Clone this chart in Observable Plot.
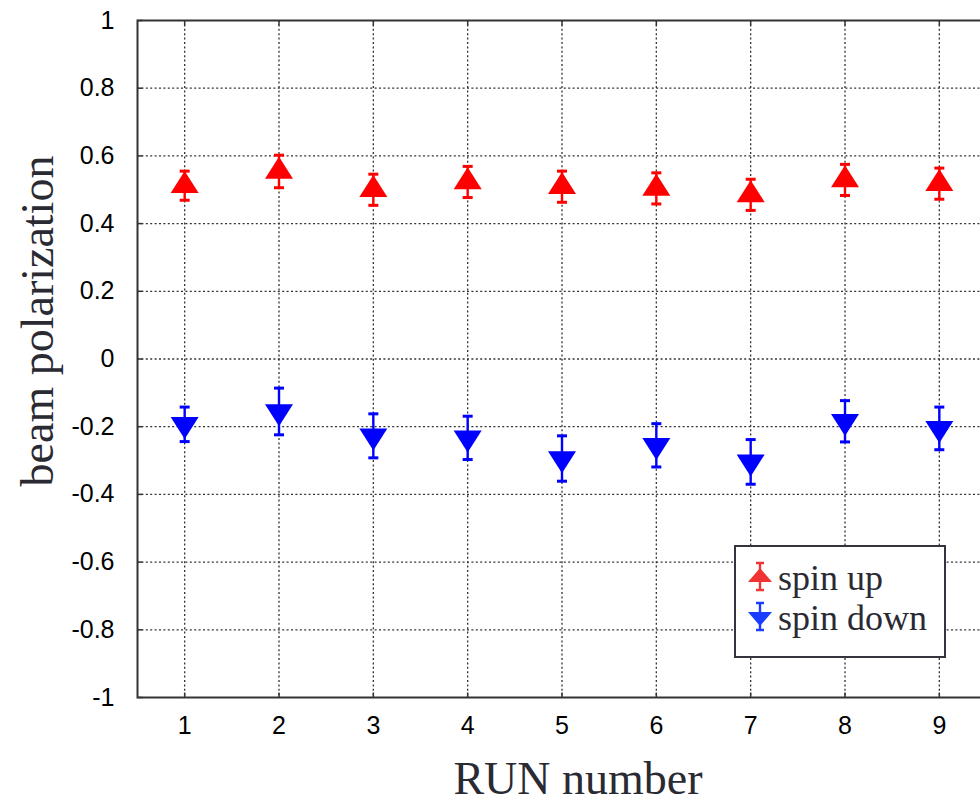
<!DOCTYPE html>
<html><head><meta charset="utf-8">
<script src="https://cdn.jsdelivr.net/npm/d3@7"></script>
<script src="https://cdn.jsdelivr.net/npm/@observablehq/plot@0.6"></script>
<style>
html,body{margin:0;padding:0;background:#fff;overflow:hidden;}
#wrap{position:relative;width:980px;height:805px;overflow:hidden;}
#legend{position:absolute;left:734px;top:545px;width:208px;height:109px;border:2px solid #34343e;background:#fff;}
#legend svg{display:block;}
</style></head><body><div id="wrap"></div>
<script>
const runs = [1, 2, 3, 4, 5, 6, 7, 8, 9];
const spinUp = [0.512, 0.554, 0.500, 0.523, 0.509, 0.504, 0.485, 0.529, 0.518];
const spinUpErr = [0.043, 0.048, 0.046, 0.046, 0.046, 0.046, 0.046, 0.046, 0.046];
const spinDown = [-0.193, -0.155, -0.227, -0.233, -0.294, -0.255, -0.304, -0.184, -0.205];
const spinDownErr = [0.051, 0.069, 0.065, 0.064, 0.067, 0.064, 0.066, 0.061, 0.063];
const yTicks = [-1, -0.8, -0.6, -0.4, -0.2, 0, 0.2, 0.4, 0.6, 0.8, 1];
const yGrid = [-0.8, -0.6, -0.4, -0.2, 0, 0.2, 0.4, 0.6, 0.8];
const seriesNames = ["spin up", "spin down"];
const seriesColors = ["#ff0000", "#0000ff"];
const xLabel = "RUN number";
const yLabel = "beam polarization";

const up = runs.map((r, i) => ({run: r, v: spinUp[i], e: spinUpErr[i]}));
const down = runs.map((r, i) => ({run: r, v: spinDown[i], e: spinDownErr[i]}));

const triUp = {draw(c, size) { const r = Math.sqrt(size / Math.PI); const w = r * 1.4, h = r * 2.2;
  c.moveTo(0, -2 * h / 3); c.lineTo(w, h / 3); c.lineTo(-w, h / 3); c.closePath(); }};
const triDown = {draw(c, size) { const r = Math.sqrt(size / Math.PI); const w = r * 1.4, h = r * 2.2;
  c.moveTo(0, 2 * h / 3); c.lineTo(w, -h / 3); c.lineTo(-w, -h / 3); c.closePath(); }};
const capSym = {draw(c, size) { const r = Math.sqrt(size / Math.PI); c.moveTo(-r, 0); c.lineTo(r, 0); }};
const tickRight = {draw(c) { c.moveTo(0, 0); c.lineTo(5, 0); }};
const tickUp = {draw(c) { c.moveTo(0, 0); c.lineTo(0, -5); }};
const tickDown = {draw(c) { c.moveTo(0, 0); c.lineTo(0, 5); }};

const axisCol = "#333";
const labelCol = "#2a2a33";
const sans = "'Liberation Sans', Arial, sans-serif";
const serif = "'Liberation Serif', 'Times New Roman', serif";
const fmt = d => String(+d.toFixed(1));

function errMarks(data, color, sym) {
  return [
    Plot.ruleX(data, {x: "run", y1: d => d.v - d.e, y2: d => d.v + d.e, stroke: color, strokeWidth: 2.4}),
    Plot.dot(data, {x: "run", y: d => d.v + d.e, symbol: capSym, r: 5, fill: "none", stroke: color, strokeWidth: 3}),
    Plot.dot(data, {x: "run", y: d => d.v - d.e, symbol: capSym, r: 5, fill: "none", stroke: color, strokeWidth: 3}),
    Plot.dot(data, {x: "run", y: "v", symbol: sym, r: 10, fill: color, stroke: "none"})
  ];
}

const chart = Plot.plot({
  width: 980,
  height: 805,
  marginLeft: 137,
  marginRight: -6,
  marginTop: 20,
  marginBottom: 108,
  style: {fontFamily: sans, color: "#000", background: "#fff"},
  x: {domain: [0.5, 9.5], axis: null},
  y: {domain: [-1, 1], axis: null},
  marks: [
    Plot.gridX(runs, {stroke: axisCol, strokeOpacity: 1, strokeWidth: 1.3, strokeDasharray: "2,2.4"}),
    Plot.gridY(yGrid, {stroke: axisCol, strokeOpacity: 1, strokeWidth: 1.3, strokeDasharray: "2,2.4"}),
    Plot.dot(yTicks, {y: d => d, frameAnchor: "left", symbol: tickRight, fill: "none", stroke: axisCol, strokeWidth: 1.5}),
    Plot.dot(runs, {x: d => d, frameAnchor: "bottom", symbol: tickUp, fill: "none", stroke: axisCol, strokeWidth: 1.5}),
    Plot.dot(runs, {x: d => d, frameAnchor: "top", symbol: tickDown, fill: "none", stroke: axisCol, strokeWidth: 1.5}),
    Plot.frame({stroke: axisCol, strokeWidth: 2}),
    Plot.text(yTicks, {y: d => d, text: fmt, frameAnchor: "left", textAnchor: "end", lineAnchor: "middle", dx: -23,
      fontSize: 25, fontFamily: sans, fill: "#000"}),
    Plot.text(runs, {x: d => d, text: d => String(d), frameAnchor: "bottom", textAnchor: "middle", lineAnchor: "top", dy: 19,
      fontSize: 25, fontFamily: sans, fill: "#000"}),
    ...errMarks(up, seriesColors[0], triUp),
    ...errMarks(down, seriesColors[1], triDown),
    Plot.text([yLabel], {frameAnchor: "left", rotate: -90, dx: -99, dy: -38, textAnchor: "middle", lineAnchor: "middle",
      fontSize: 46, fontFamily: serif, fill: labelCol}),
    Plot.text([xLabel], {frameAnchor: "bottom", dx: 16, dy: 82, textAnchor: "middle", lineAnchor: "middle",
      fontSize: 46, fontFamily: serif, fill: labelCol})
  ]
});

const wrap = document.getElementById("wrap");
wrap.appendChild(chart);

// legend
const ns = "http://www.w3.org/2000/svg";
const leg = document.createElement("div");
leg.id = "legend";
const lsvg = document.createElementNS(ns, "svg");
lsvg.setAttribute("width", 208); lsvg.setAttribute("height", 109);
const legColors = ["#f03434", "#1a3cff"];
seriesNames.forEach((name, i) => {
  const cy = 30 + i * 40, cx = 24, dir = i === 0 ? -1 : 1;
  const g = document.createElementNS(ns, "g");
  const tri = document.createElementNS(ns, "path");
  const tip = cy + dir * 9, base = cy - dir * 5;
  tri.setAttribute("d", `M${cx},${tip}L${cx + 12},${base}L${cx - 12},${base}Z`);
  tri.setAttribute("fill", legColors[i]);
  const bar = document.createElementNS(ns, "path");
  bar.setAttribute("d", `M${cx},${cy - 14}L${cx},${cy + 13}M${cx - 4},${cy - 14}L${cx + 4},${cy - 14}M${cx - 4},${cy + 13}L${cx + 4},${cy + 13}`);
  bar.setAttribute("stroke", legColors[i]); bar.setAttribute("stroke-width", 2.4); bar.setAttribute("fill", "none");
  g.appendChild(bar); g.appendChild(tri);
  const t = document.createElementNS(ns, "text");
  t.setAttribute("x", 42); t.setAttribute("y", 43 + i * 40);
  t.setAttribute("font-family", serif);
  t.setAttribute("font-size", 36); t.setAttribute("fill", labelCol);
  t.textContent = name;
  g.appendChild(t);
  lsvg.appendChild(g);
});
leg.appendChild(lsvg);
wrap.appendChild(leg);
</script></body></html>
